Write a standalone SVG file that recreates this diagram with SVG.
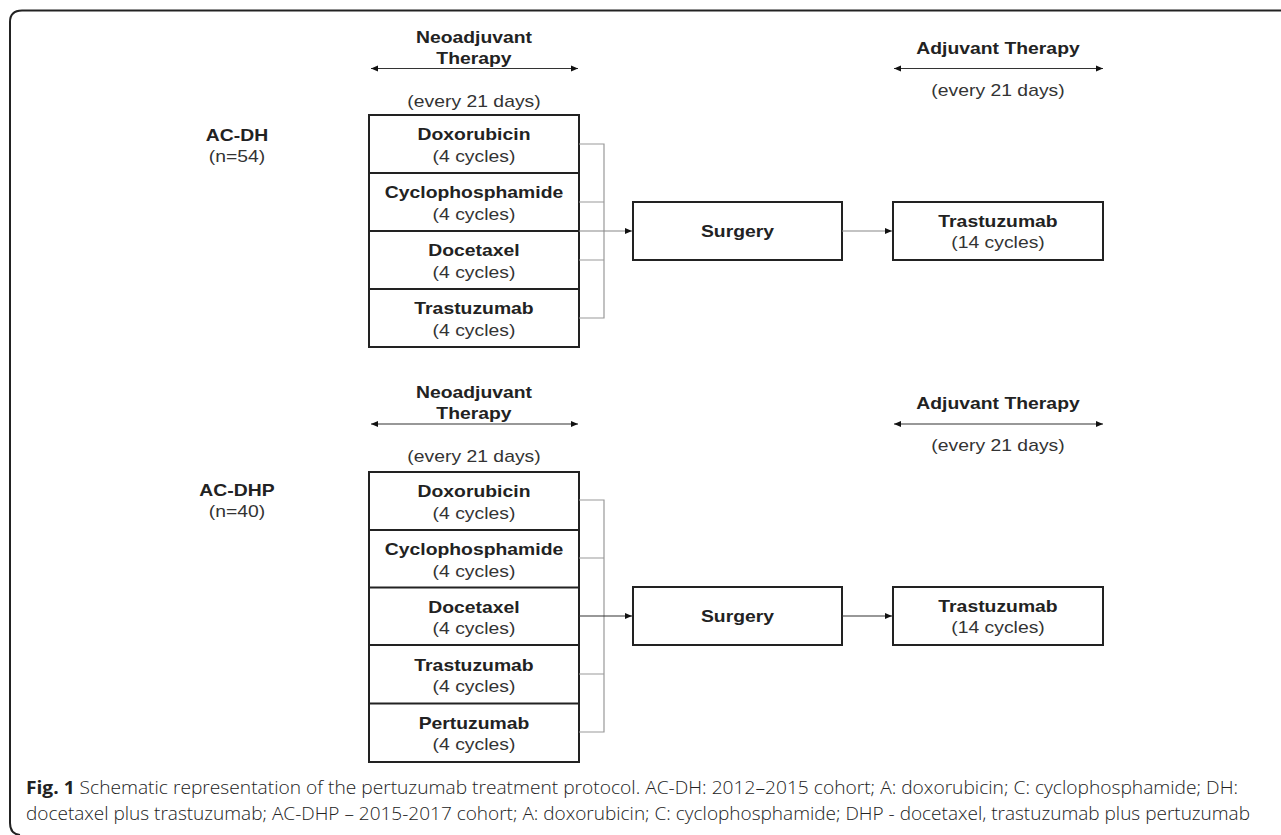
<svg xmlns="http://www.w3.org/2000/svg" width="1281" height="835" viewBox="0 0 1281 835">
<style>
.b{font-family:"Liberation Sans",Arial,sans-serif;font-weight:bold;font-size:16px;fill:#222;text-anchor:middle}
.r{font-family:"Liberation Sans",Arial,sans-serif;font-size:16px;fill:#333;text-anchor:middle}
.box{fill:#fff;stroke:#222;stroke-width:2}
.div{stroke:#222;stroke-width:2}
.br{fill:none;stroke:#999;stroke-width:1.2}
.gl{stroke:#888;stroke-width:1.2;fill:none}
.dl{stroke:#333;stroke-width:1.2;fill:none}
.cap{font-family:"Open Sans","Noto Sans",sans-serif;font-size:18.5px;font-weight:300;fill:#222}
</style>
<defs>
<marker id="ah" markerUnits="userSpaceOnUse" markerWidth="8" markerHeight="8" refX="7" refY="4" orient="auto-start-reverse">
<path d="M0,1 L7,4 L0,7 z" fill="#111"/>
</marker>
</defs>
<rect width="1281" height="835" fill="#fff"/>
<path d="M1281,10.5 H22 Q10,10.5 10,22 V823 Q10,834 20,835" fill="none" stroke="#222" stroke-width="2"/>

<g id="neo-header-1">
<text class="b" transform="translate(474,42.5) scale(1.21,1)">Neoadjuvant</text>
<text class="b" transform="translate(474,64) scale(1.21,1)">Therapy</text>
<text class="r" transform="translate(474,107) scale(1.21,1)">(every 21 days)</text>
</g>
<g id="adj-header-1">
<text class="b" transform="translate(998,54) scale(1.21,1)">Adjuvant Therapy</text>
<text class="r" transform="translate(998,95.5) scale(1.21,1)">(every 21 days)</text>
</g>
<g id="group-acdh">
<text class="b" transform="translate(237,140.5) scale(1.21,1)">AC-DH</text>
<text class="r" transform="translate(237,162) scale(1.21,1)">(n=54)</text>
</g>

<g id="neo-stack-1">
<rect class="box" x="369" y="115" width="210" height="232"/>
<line class="div" x1="369" y1="173" x2="579" y2="173"/>
<line class="div" x1="369" y1="231" x2="579" y2="231"/>
<line class="div" x1="369" y1="289" x2="579" y2="289"/>
<text class="b" transform="translate(474,140.3) scale(1.21,1)">Doxorubicin</text>
<text class="r" transform="translate(474,161.5) scale(1.21,1)">(4 cycles)</text>
<text class="b" transform="translate(474,198.3) scale(1.21,1)">Cyclophosphamide</text>
<text class="r" transform="translate(474,219.5) scale(1.21,1)">(4 cycles)</text>
<text class="b" transform="translate(474,256.3) scale(1.21,1)">Docetaxel</text>
<text class="r" transform="translate(474,277.5) scale(1.21,1)">(4 cycles)</text>
<text class="b" transform="translate(474,314.3) scale(1.21,1)">Trastuzumab</text>
<text class="r" transform="translate(474,335.5) scale(1.21,1)">(4 cycles)</text>
</g>
<g id="surgery-1">
<rect class="box" x="633" y="202" width="209" height="58"/>
<text class="b" transform="translate(737.5,237) scale(1.21,1)">Surgery</text>
</g>
<g id="adjuvant-1">
<rect class="box" x="893" y="202" width="210" height="58"/>
<text class="b" transform="translate(998,227) scale(1.21,1)">Trastuzumab</text>
<text class="r" transform="translate(998,248) scale(1.21,1)">(14 cycles)</text>
</g>

<g id="neo-header-2">
<text class="b" transform="translate(474,397.5) scale(1.21,1)">Neoadjuvant</text>
<text class="b" transform="translate(474,419) scale(1.21,1)">Therapy</text>
<text class="r" transform="translate(474,462) scale(1.21,1)">(every 21 days)</text>
</g>
<g id="adj-header-2">
<text class="b" transform="translate(998,409) scale(1.21,1)">Adjuvant Therapy</text>
<text class="r" transform="translate(998,450.5) scale(1.21,1)">(every 21 days)</text>
</g>
<g id="group-acdhp">
<text class="b" transform="translate(237,495.5) scale(1.21,1)">AC-DHP</text>
<text class="r" transform="translate(237,517) scale(1.21,1)">(n=40)</text>
</g>

<g id="neo-stack-2">
<rect class="box" x="369" y="472" width="210" height="290"/>
<line class="div" x1="369" y1="530" x2="579" y2="530"/>
<line class="div" x1="369" y1="587.5" x2="579" y2="587.5"/>
<line class="div" x1="369" y1="645" x2="579" y2="645"/>
<line class="div" x1="369" y1="703.5" x2="579" y2="703.5"/>
<text class="b" transform="translate(474,497.3) scale(1.21,1)">Doxorubicin</text>
<text class="r" transform="translate(474,518.5) scale(1.21,1)">(4 cycles)</text>
<text class="b" transform="translate(474,555.3) scale(1.21,1)">Cyclophosphamide</text>
<text class="r" transform="translate(474,576.5) scale(1.21,1)">(4 cycles)</text>
<text class="b" transform="translate(474,612.8) scale(1.21,1)">Docetaxel</text>
<text class="r" transform="translate(474,634) scale(1.21,1)">(4 cycles)</text>
<text class="b" transform="translate(474,670.8) scale(1.21,1)">Trastuzumab</text>
<text class="r" transform="translate(474,692) scale(1.21,1)">(4 cycles)</text>
<text class="b" transform="translate(474,728.8) scale(1.21,1)">Pertuzumab</text>
<text class="r" transform="translate(474,750) scale(1.21,1)">(4 cycles)</text>
</g>
<g id="surgery-2">
<rect class="box" x="633" y="587" width="209" height="58"/>
<text class="b" transform="translate(737.5,622) scale(1.21,1)">Surgery</text>
</g>
<g id="adjuvant-2">
<rect class="box" x="893" y="587" width="210" height="58"/>
<text class="b" transform="translate(998,612) scale(1.21,1)">Trastuzumab</text>
<text class="r" transform="translate(998,633) scale(1.21,1)">(14 cycles)</text>
</g>

<g id="connectors">
<line class="dl" x1="371" y1="68.5" x2="578" y2="68.5" marker-start="url(#ah)" marker-end="url(#ah)"/>
<line class="dl" x1="894" y1="68.5" x2="1103" y2="68.5" marker-start="url(#ah)" marker-end="url(#ah)"/>
<path class="br" d="M579,144 H604 V318 H579 M579,202 H604 M579,260 H604"/>
<line class="gl" x1="579" y1="231" x2="632" y2="231" marker-end="url(#ah)"/>
<line class="gl" x1="842" y1="231" x2="892" y2="231" marker-end="url(#ah)"/>

<line class="dl" x1="371" y1="424" x2="578" y2="424" marker-start="url(#ah)" marker-end="url(#ah)"/>
<line class="dl" x1="894" y1="424" x2="1103" y2="424" marker-start="url(#ah)" marker-end="url(#ah)"/>
<path class="br" d="M579,500 H604 V732 H579 M579,558 H604 M579,674 H604"/>
<line class="dl" x1="579" y1="616" x2="632" y2="616" marker-end="url(#ah)"/>
<line class="dl" x1="842" y1="616" x2="892" y2="616" marker-end="url(#ah)"/>
</g>

<g id="caption">
<text class="cap" x="26" y="794" textLength="1212" lengthAdjust="spacingAndGlyphs"><tspan font-weight="bold">Fig. 1</tspan> Schematic representation of the pertuzumab treatment protocol. AC-DH: 2012–2015 cohort; A: doxorubicin; C: cyclophosphamide; DH:</text>
<text class="cap" x="26" y="820" textLength="1224" lengthAdjust="spacingAndGlyphs">docetaxel plus trastuzumab; AC-DHP – 2015-2017 cohort; A: doxorubicin; C: cyclophosphamide; DHP - docetaxel, trastuzumab plus pertuzumab</text>
</g>
</svg>
